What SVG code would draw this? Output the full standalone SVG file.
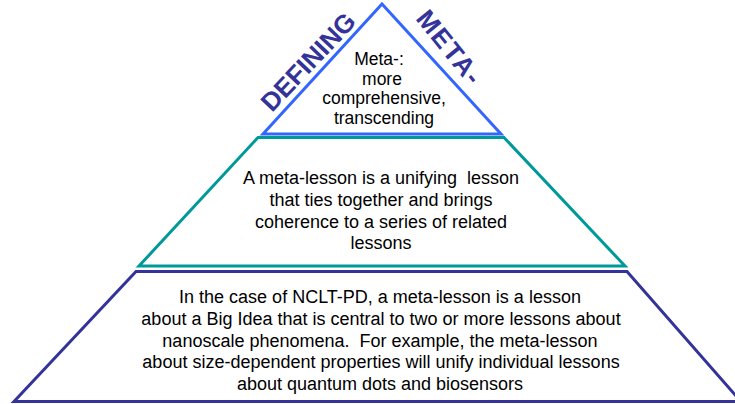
<svg xmlns="http://www.w3.org/2000/svg" width="735" height="404" viewBox="0 0 735 404">
  <style>
    .tier { fill: #ffffff; stroke-width: 3; stroke-linejoin: miter; }
    .apex { stroke: #3366ff; }
    .mid { stroke: #009999; }
    .base { stroke: #333399; }
    .body { font-family: "Liberation Sans", Arial, sans-serif; fill: #000000; text-anchor: middle; white-space: pre; }
    .title { font-family: "Liberation Sans", Arial, sans-serif; font-weight: bold; font-size: 26px; fill: #333399; }
  </style>
  <rect width="735" height="404" fill="#ffffff"/>

  <!-- bottom tier -->
  <g id="tier-base">
    <polygon class="tier base" points="136,271.5 627,271.5 741,401.5 14,401.5"/>
    <g class="body" font-size="18">
      <text x="380" y="303">In the case of NCLT-PD, a meta-lesson is a lesson</text>
      <text x="381" y="325">about a Big Idea that is central to two or more lessons about</text>
      <text x="380" y="347" xml:space="preserve">nanoscale phenomena.  For example, the meta-lesson</text>
      <text x="381" y="368">about size-dependent properties will unify individual lessons</text>
      <text x="380" y="390">about quantum dots and biosensors</text>
    </g>
  </g>

  <!-- middle tier -->
  <g id="tier-mid">
    <polygon class="tier mid" points="258,137.5 504,137.5 625,266 139,266"/>
    <g class="body" font-size="18">
      <text x="381" y="184" xml:space="preserve">A meta-lesson is a unifying  lesson</text>
      <text x="381" y="206">that ties together and brings</text>
      <text x="381" y="228">coherence to a series of related</text>
      <text x="381" y="249">lessons</text>
    </g>
  </g>

  <!-- top tier -->
  <g id="tier-apex">
    <polygon class="tier apex" points="382,4 501,134 263,134"/>
    <g class="body" font-size="17.5">
      <text x="379" y="65">Meta-:</text>
      <text x="382" y="85">more</text>
      <text x="384" y="104">comprehensive,</text>
      <text x="384" y="124">transcending</text>
    </g>
  </g>

  <!-- heading along the apex sides -->
  <g id="heading">
    <text class="title" transform="translate(272,113) rotate(-46.5)">DEFINING</text>
    <text class="title" letter-spacing="1.5" transform="translate(415,19) rotate(51)">META-</text>
  </g>
</svg>
